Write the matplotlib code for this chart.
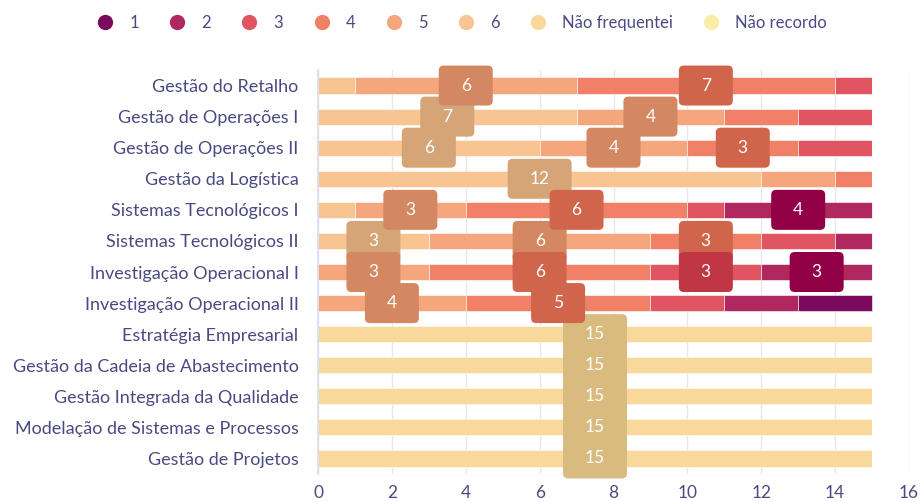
import matplotlib
matplotlib.use("Agg")
import matplotlib.pyplot as plt
from matplotlib.patches import FancyBboxPatch
from matplotlib.lines import Line2D
from matplotlib.transforms import ScaledTranslation
import numpy as np

categories = [
    "Gestão do Retalho", "Gestão de Operações I", "Gestão de Operações II",
    "Gestão da Logística", "Sistemas Tecnológicos I", "Sistemas Tecnológicos II",
    "Investigação Operacional I", "Investigação Operacional II",
    "Estratégia Empresarial", "Gestão da Cadeia de Abastecimento",
    "Gestão Integrada da Qualidade", "Modelação de Sistemas e Processos",
    "Gestão de Projetos",
]
series_names = ["1", "2", "3", "4", "5", "6", "Não frequentei", "Não recordo"]

s1 = [0, 0, 0, 0, 0, 0, 0, 2, 0, 0, 0, 0, 0]
s2 = [0, 0, 0, 0, 4, 1, 3, 2, 0, 0, 0, 0, 0]
s3 = [1, 2, 2, 0, 1, 2, 3, 2, 0, 0, 0, 0, 0]
s4 = [7, 2, 3, 1, 6, 3, 6, 5, 0, 0, 0, 0, 0]
s5 = [6, 4, 4, 2, 3, 6, 3, 4, 0, 0, 0, 0, 0]
s6 = [1, 7, 6, 12, 1, 3, 0, 0, 0, 0, 0, 0, 0]
s_nf = [0, 0, 0, 0, 0, 0, 0, 0, 15, 15, 15, 15, 15]
s_nr = [0, 0, 0, 0, 0, 0, 0, 0, 0, 0, 0, 0, 0]

series = [s1, s2, s3, s4, s5, s6, s_nf, s_nr]
colors = ["#7a0b5c", "#b0285f", "#e15562", "#f08066", "#f5a67c", "#f8c492", "#f9d89c", "#f8eea8"]
label_colors = ["#5e0047", "#910045", "#bf3645", "#d1654b", "#d38862", "#d5a577", "#d9bb80", "#d9cf88"]
# stacking order left->right
stack_order = [7, 6, 5, 4, 3, 2, 1, 0]

text_color = "#4a4a82"
plt.rcParams['font.family'] = ['Lato', 'DejaVu Sans']

W, H = 922, 501
dpi = 100
fig = plt.figure(figsize=(W / dpi, H / dpi), dpi=dpi)
ax = fig.add_axes([318 / W, 1 - 474 / H, (909 - 318) / W, (474 - 70) / H])

y = np.arange(len(categories))
left = np.zeros(len(categories))
segs = []
for k in stack_order:
    vals = np.array(series[k], dtype=float)
    ax.barh(y, vals, left=left, height=0.52, color=colors[k], edgecolor="white",
            linewidth=0.4, zorder=2)
    for i, v in enumerate(vals):
        if v >= 3:
            segs.append((left[i] + v / 2, i, int(v), k))
    left = left + vals

for cx, cy, v, k in segs:
    txt = str(v)
    wpx = 44 + 10 * len(txt)
    hpx = 40
    trans = fig.dpi_scale_trans + ScaledTranslation(cx, cy, ax.transData)
    box = FancyBboxPatch((-wpx / 2 / dpi, -hpx / 2 / dpi), wpx / dpi, hpx / dpi,
                         boxstyle="round,pad=0,rounding_size=0.05",
                         transform=trans, facecolor=label_colors[k], edgecolor="none",
                         zorder=4, clip_on=False)
    ax.add_patch(box)
    ax.text(cx, cy, txt, ha="center", va="center", color="white", fontsize=12.5,
            zorder=5)

ax.set_xlim(0, 16)
ax.set_ylim(len(categories) - 0.5, -0.5)
ax.set_xticks(np.arange(0, 17, 2))
ax.set_yticks(y)
ax.set_yticklabels(categories)
ax.tick_params(axis="y", length=0, pad=14, labelsize=13, labelcolor=text_color)
ax.tick_params(axis="x", length=0, pad=8, labelsize=12.5, labelcolor=text_color)
ax.grid(axis="x", color="#e8e8ec", linewidth=1, zorder=0)
ax.set_axisbelow(True)
for s in ["top", "right", "bottom"]:
    ax.spines[s].set_visible(False)
ax.spines["left"].set_color("#d8dcee")
ax.spines["left"].set_linewidth(1.2)

handles = [Line2D([], [], marker="o", linestyle="none", markersize=11,
                  markerfacecolor=c, markeredgecolor="none") for c in colors]
leg = fig.legend(handles, series_names, loc="center", bbox_to_anchor=(462 / W, 1 - 23 / H),
                 ncol=8, frameon=False, fontsize=12, handletextpad=0.95,
                 columnspacing=1.8, handlelength=1.0)
for t in leg.get_texts():
    t.set_color(text_color)

fig.savefig("out.png", dpi=dpi)
